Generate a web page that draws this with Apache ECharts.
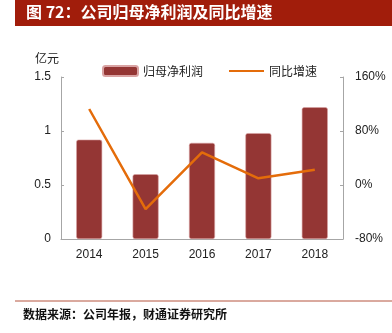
<!DOCTYPE html>
<html>
<head>
<meta charset="utf-8">
<script src="https://cdn.jsdelivr.net/npm/echarts@6/dist/echarts.min.js"></script>
<style>
  html, body { margin: 0; padding: 0; background: #fff; }
  #chart { width: 392px; height: 333px; }
</style>
</head>
<body>
<div id="chart"></div>
<script>
// 公司归母净利润（亿元）及同比增速（%）
const years = ['2014', '2015', '2016', '2017', '2018'];
const netProfit = [0.92, 0.60, 0.89, 0.98, 1.22];
const growth = [112.6, -35.6, 48.4, 9.9, 22.7];
const leftTicks = { min: 0, max: 1.5, interval: 0.5 };
const rightTicks = { min: -80, max: 160, interval: 80 };

const cjk = '"Noto Sans CJK SC", sans-serif';
const latin = '"Liberation Sans", Arial, sans-serif';
const axisGray = '#a6a6a6';

const chart = echarts.init(document.getElementById('chart'), null, { renderer: 'canvas' });

chart.setOption({
  animation: false,
  backgroundColor: '#fff',
  grid: { left: 61, right: 49, top: 77, bottom: 94, containLabel: false },
  legend: {
    left: 97,
    top: 60,
    itemWidth: 35,
    itemHeight: 10,
    itemGap: 25,
    textStyle: { fontFamily: cjk, fontSize: 12, color: '#222' },
    data: [
      { name: '归母净利润', icon: 'roundRect' },
      { name: '同比增速', itemStyle: { opacity: 0 } }
    ]
  },
  graphic: [
    { type: 'rect', left: 15, top: 0, shape: { width: 377, height: 26 }, style: { fill: '#a11d0b' } },
    { type: 'text', left: 26, top: 4, style: { text: '图 72：公司归母净利润及同比增速', fill: '#fff', font: 'bold 16px ' + cjk } },
    { type: 'text', left: 35, top: 52, style: { text: '亿元', fill: '#222', font: '12px ' + cjk } },
    { type: 'line', shape: { x1: 15, y1: 301, x2: 392, y2: 301 }, style: { stroke: '#b5543f', lineWidth: 1 } },
    { type: 'text', left: 23, top: 308, style: { text: '数据来源：公司年报，财通证券研究所', fill: '#111', font: 'bold 12px ' + cjk } }
  ],
  xAxis: {
    type: 'category',
    data: years,
    boundaryGap: true,
    axisLine: { lineStyle: { color: axisGray } },
    axisTick: { inside: true, length: 3, lineStyle: { color: axisGray } },
    axisLabel: { margin: 10, fontFamily: latin, fontSize: 12, color: '#222' }
  },
  yAxis: [
    {
      type: 'value',
      min: leftTicks.min, max: leftTicks.max, interval: leftTicks.interval,
      axisLine: { show: true, lineStyle: { color: axisGray } },
      axisTick: { show: true, inside: true, length: 3, lineStyle: { color: axisGray } },
      axisLabel: { margin: 10, fontFamily: latin, fontSize: 12, color: '#222' },
      splitLine: { show: false }
    },
    {
      type: 'value',
      min: rightTicks.min, max: rightTicks.max, interval: rightTicks.interval,
      axisLine: { show: true, lineStyle: { color: axisGray } },
      axisTick: { show: true, inside: true, length: 3, lineStyle: { color: axisGray } },
      axisLabel: { margin: 12, fontFamily: latin, fontSize: 12, color: '#222', formatter: v => v + '%' },
      splitLine: { show: false }
    }
  ],
  series: [
    {
      name: '归母净利润',
      type: 'bar',
      yAxisIndex: 0,
      data: netProfit,
      barWidth: 26,
      itemStyle: { color: '#943634', borderColor: '#d9a3a3', borderWidth: 0.6, borderRadius: 2 }
    },
    {
      name: '同比增速',
      type: 'line',
      yAxisIndex: 1,
      data: growth,
      symbol: 'none',
      lineStyle: { color: '#e46c0a', width: 2.5 },
      itemStyle: { color: '#e46c0a' }
    }
  ]
});
</script>
</body>
</html>
